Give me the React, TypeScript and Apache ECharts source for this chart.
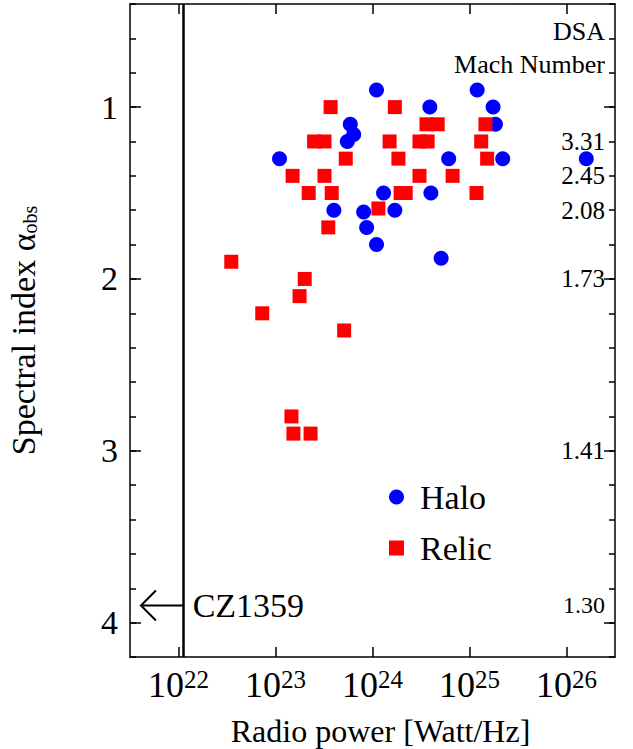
import React, { useEffect, useRef } from "react";
import * as echarts from "echarts";

// ---- data ----
const haloPower = [1.1e24, 5.9e23, 6.4e23, 5.5e23, 1.1e23, 1.3e24, 4.0e23, 8.1e23, 8.7e23, 1.1e24, 1.7e24, 1.2e25, 3.9e24, 1.75e25, 1.85e25, 6.1e24, 2.2e25, 4.0e24, 5.1e24, 1.6e26];
const haloAlpha = [0.9, 1.1, 1.16, 1.2, 1.3, 1.5, 1.6, 1.61, 1.7, 1.8, 1.6, 0.9, 1.0, 1.0, 1.1, 1.3, 1.3, 1.5, 1.88, 1.3];

const relicPower = [3.7e23, 2.5e23, 3.2e23, 5.3e23, 1.5e23, 3.2e23, 2.2e23, 3.8e23, 3.5e23, 1.15e24, 1.7e24, 3.6e24, 4.7e24, 1.46e25, 1.5e24, 3.05e24, 3.7e24, 1.32e25, 1.85e24, 1.52e25, 3.05e24, 6.7e24, 1.95e24, 2.2e24, 1.18e25, 3.5e22, 2.0e23, 1.77e23, 7.3e22, 5.1e23, 1.46e23, 1.53e23, 2.3e23];
const relicAlpha = [1.0, 1.2, 1.2, 1.3, 1.4, 1.4, 1.5, 1.5, 1.7, 1.59, 1.0, 1.1, 1.1, 1.1, 1.2, 1.2, 1.2, 1.2, 1.3, 1.3, 1.4, 1.4, 1.5, 1.5, 1.5, 1.9, 2.0, 2.1, 2.2, 2.3, 2.8, 2.9, 2.9];

const xTickValues = [1e22, 1e23, 1e24, 1e25, 1e26];
const yMajorTicks = [1, 2, 3, 4];
const machLabelValues = [0.56, 0.75, 1.2, 1.4, 1.6, 2.0, 3.0, 3.9];
const machLabels = ["DSA", "Mach Number", "3.31", "2.45", "2.08", "1.73", "1.41", "1.30"];

const czPower = 1.13e22;
const czAlpha = 3.9;
const czArrowTip = 4.1e21;
const czName = "CZ1359";

const FONT = "Liberation Serif";

export default function App() {
  const ref = useRef<HTMLDivElement>(null);

  useEffect(() => {
    if (!ref.current) return;
    const chart = echarts.init(ref.current, null, { renderer: "svg" });

    const yRange = { min: 0.4, max: 4.2 };
    const xRange = { min: Math.pow(10, 21.5), max: Math.pow(10, 26.5) };
    const axisLine = { show: true, lineStyle: { color: "#000", width: 1.5 } };

    const machFormatter = (v: number) => {
      const i = machLabelValues.findIndex((m) => Math.abs(m - v) < 1e-6);
      if (i < 0) return "";
      if (i < 2) return `{t|${machLabels[i]}}`;
      if (machLabels[i] === "1.30") return `{s|${machLabels[i]}}`;
      return `{n|${machLabels[i]}}`;
    };

    const option: any = {
      animation: false,
      backgroundColor: "#fff",
      textStyle: { fontFamily: FONT },
      grid: { left: 130, right: 18, top: 4, bottom: 92, containLabel: false, outerBoundsMode: "none" },
      legend: {
        data: [
          { name: "Halo", icon: "circle" },
          { name: "Relic", icon: "rect" },
        ],
        orient: "vertical",
        left: 384,
        top: 475,
        itemWidth: 15,
        itemHeight: 15,
        itemGap: 17,
        formatter: (name: string) => `{g| }{t|${name}}`,
        textStyle: {
          fontSize: 34,
          fontFamily: FONT,
          color: "#000",
          lineHeight: 34,
          rich: {
            g: { width: 11, fontSize: 34, lineHeight: 34 },
            t: { fontSize: 34, fontFamily: FONT, color: "#000", lineHeight: 34 },
          },
        },
      },
      xAxis: [
        {
          type: "log",
          position: "bottom",
          ...xRange,
          axisLine,
          axisTick: { show: true, inside: true, length: 10, customValues: xTickValues, lineStyle: { color: "#000", width: 1.5 } },
          minorTick: { show: false },
          splitLine: { show: false },
          axisLabel: {
            customValues: xTickValues,
            margin: 10,
            formatter: (v: number) => `{b|10}{s|${Math.round(Math.log10(v))}}`,
            rich: {
              b: { fontSize: 36, fontFamily: FONT, color: "#000" },
              s: { fontSize: 25, fontFamily: FONT, color: "#000", verticalAlign: "top", lineHeight: 8 },
            },
          },
          name: "Radio power [Watt/Hz]",
          nameLocation: "middle",
          nameGap: 58,
          nameTextStyle: { fontSize: 32, fontFamily: FONT, color: "#000", padding: [0, 0, 0, 16] },
        },
        {
          type: "log",
          position: "top",
          ...xRange,
          axisLine,
          axisTick: { show: true, inside: true, length: 10, customValues: xTickValues, lineStyle: { color: "#000", width: 1.5 } },
          minorTick: { show: false },
          splitLine: { show: false },
          axisLabel: { show: false },
        },
      ],
      yAxis: [
        {
          type: "value",
          position: "left",
          inverse: true,
          ...yRange,
          interval: 0.2,
          axisLine,
          axisTick: { show: true, inside: true, length: 6, lineStyle: { color: "#000", width: 1.5 } },
          splitLine: { show: false },
          axisLabel: {
            customValues: yMajorTicks,
            formatter: (v: number) => String(Math.round(v)),
            fontSize: 34,
            fontFamily: FONT,
            color: "#000",
            margin: 12,
          },
          name: "Spectral index {a|α}{sub|obs}",
          nameLocation: "middle",
          nameGap: 90,
          nameRotate: 90,
          nameTextStyle: {
            fontSize: 34,
            fontFamily: FONT,
            color: "#000",
            rich: {
              a: { fontSize: 34, fontFamily: FONT, color: "#000" },
              sub: { fontSize: 20, fontFamily: FONT, color: "#000", verticalAlign: "bottom", lineHeight: 8 },
            },
          },
        },
        {
          type: "value",
          position: "left",
          inverse: true,
          ...yRange,
          axisLine: { show: false },
          axisTick: { show: true, inside: true, length: 11, customValues: yMajorTicks, lineStyle: { color: "#000", width: 1.5 } },
          axisLabel: { show: false },
          splitLine: { show: false },
        },
        {
          type: "value",
          position: "right",
          inverse: true,
          ...yRange,
          interval: 0.2,
          axisLine,
          axisTick: { show: true, inside: true, length: 6, lineStyle: { color: "#000", width: 1.5 } },
          splitLine: { show: false },
          axisLabel: {
            inside: true,
            margin: 10,
            customValues: machLabelValues,
            formatter: machFormatter,
            rich: {
              t: { fontSize: 26, fontFamily: FONT, color: "#000" },
              n: { fontSize: 25, fontFamily: FONT, color: "#000" },
              s: { fontSize: 24, fontFamily: FONT, color: "#000" },
            },
          },
        },
        {
          type: "value",
          position: "right",
          inverse: true,
          ...yRange,
          axisLine: { show: false },
          axisTick: { show: true, inside: true, length: 11, customValues: yMajorTicks, lineStyle: { color: "#000", width: 1.5 } },
          axisLabel: { show: false },
          splitLine: { show: false },
        },
      ],
      series: [
        {
          name: "Halo",
          type: "scatter",
          xAxisIndex: 0,
          yAxisIndex: 0,
          symbol: "circle",
          symbolSize: 15,
          itemStyle: { color: "#0000ff", opacity: 1 },
          data: haloPower.map((p, i) => [p, haloAlpha[i]]),
        },
        {
          name: "Relic",
          type: "scatter",
          xAxisIndex: 0,
          yAxisIndex: 0,
          symbol: "rect",
          symbolSize: 14,
          itemStyle: { color: "#ff0000", opacity: 1 },
          data: relicPower.map((p, i) => [p, relicAlpha[i]]),
        },
        {
          name: "CZ",
          type: "custom",
          xAxisIndex: 0,
          yAxisIndex: 0,
          data: [[czPower, czAlpha, czArrowTip]],
          encode: { x: [0, 2], y: 1 },
          renderItem: (params: any, api: any) => {
            const start = api.coord([api.value(0), api.value(1)]);
            const end = api.coord([api.value(2), api.value(1)]);
            return {
              type: "group",
              children: [
                { type: "line", shape: { x1: start[0], y1: start[1], x2: end[0], y2: end[1] }, style: { stroke: "#000", lineWidth: 2 } },
                {
                  type: "polyline",
                  shape: { points: [[end[0] + 15, end[1] - 15], [end[0], end[1]], [end[0] + 15, end[1] + 15]] },
                  style: { stroke: "#000", lineWidth: 2, fill: "none" },
                },
                {
                  type: "text",
                  x: start[0] + 9,
                  y: start[1],
                  style: { text: czName, fontSize: 34, fontFamily: FONT, fill: "#000", verticalAlign: "middle", align: "left" },
                },
              ],
            };
          },
          markLine: {
            silent: true,
            symbol: ["none", "none"],
            label: { show: false },
            lineStyle: { color: "#000", width: 2.5, type: "solid" },
            data: [{ xAxis: czPower }],
          },
        },
      ],
    };

    chart.setOption(option);
    return () => chart.dispose();
  }, []);

  return <div ref={ref} style={{ position: "fixed", left: 0, top: 0, width: 633, height: 749 }} />;
}
